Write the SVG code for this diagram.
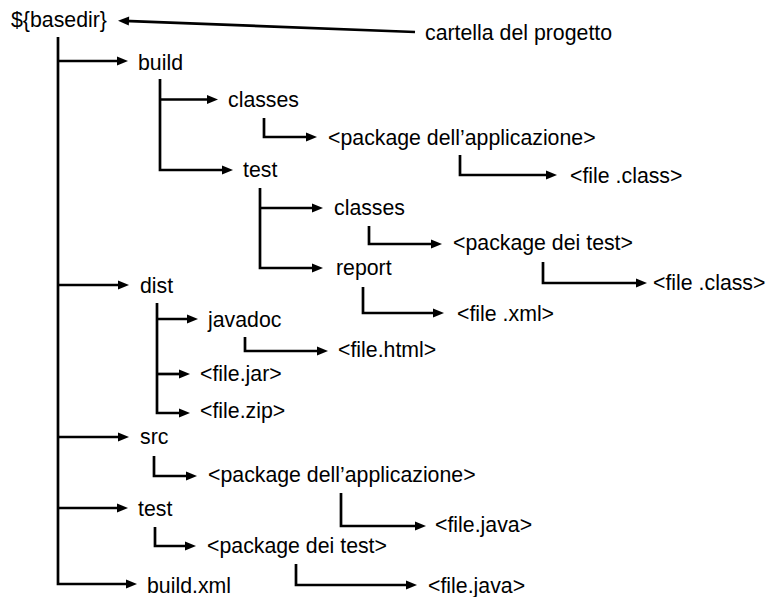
<svg xmlns="http://www.w3.org/2000/svg" width="774" height="597" viewBox="0 0 774 597">
<style>
text{font-family:"Liberation Sans",Arial,sans-serif;font-size:21.3px;fill:#000}
.c path{fill:none;stroke:#000;stroke-width:2.7;marker-end:url(#ah)}
</style>
<defs>
<marker id="ah" markerUnits="userSpaceOnUse" markerWidth="12" markerHeight="10" refX="5" refY="4.5" orient="auto" overflow="visible">
<path d="M0,0 L11,4.5 L0,9 z" fill="#000"/>
</marker>
</defs>
<rect width="774" height="597" fill="#fff"/>
<g class="c" id="connectors">
<path d="M415,32 L124,20.9"/>
<path d="M58,37 V584 H131"/>
<path d="M58,61 H122"/>
<path d="M58,285 H123"/>
<path d="M58,437 H123"/>
<path d="M58,508 H122"/>
<path d="M160,79 V170 H227"/>
<path d="M160,99.5 H212"/>
<path d="M264,118 V137 H311"/>
<path d="M460,155 V175 H551"/>
<path d="M260,188 V268 H317"/>
<path d="M260,208 H317"/>
<path d="M369,226 V244 H436"/>
<path d="M543,262 V283 H641"/>
<path d="M363,287 V313 H438"/>
<path d="M157,303 V413 H184"/>
<path d="M157,319 H192"/>
<path d="M157,374 H184"/>
<path d="M245,337 V351 H322"/>
<path d="M154,456 V476 H191"/>
<path d="M341,493 V526 H420"/>
<path d="M155,527 V546 H190"/>
<path d="M296,564 V585 H411"/>
</g>
<g id="n-basedir"><text x="11" y="27">${basedir}</text></g>
<g id="n-cartella"><text x="425" y="40">cartella del progetto</text></g>
<g id="n-build"><text x="138" y="70">build</text></g>
<g id="n-build-classes"><text x="228" y="107">classes</text></g>
<g id="n-build-classes-pkg"><text x="328" y="145">&lt;package dell’applicazione&gt;</text></g>
<g id="n-build-classes-file"><text x="570" y="183">&lt;file .class&gt;</text></g>
<g id="n-build-test"><text x="243" y="177">test</text></g>
<g id="n-build-test-classes"><text x="334" y="215">classes</text></g>
<g id="n-build-test-pkg"><text x="453" y="250">&lt;package dei test&gt;</text></g>
<g id="n-build-test-file"><text x="653" y="290">&lt;file .class&gt;</text></g>
<g id="n-build-test-report"><text x="336" y="275">report</text></g>
<g id="n-report-xml"><text x="457" y="321">&lt;file .xml&gt;</text></g>
<g id="n-dist"><text x="140" y="293">dist</text></g>
<g id="n-javadoc"><text x="208" y="327">javadoc</text></g>
<g id="n-html"><text x="338" y="357">&lt;file.html&gt;</text></g>
<g id="n-jar"><text x="200" y="381">&lt;file.jar&gt;</text></g>
<g id="n-zip"><text x="200" y="418">&lt;file.zip&gt;</text></g>
<g id="n-src"><text x="140" y="444">src</text></g>
<g id="n-src-pkg"><text x="208" y="482">&lt;package dell’applicazione&gt;</text></g>
<g id="n-src-java"><text x="435" y="532">&lt;file.java&gt;</text></g>
<g id="n-test"><text x="138" y="516">test</text></g>
<g id="n-test-pkg"><text x="207" y="553">&lt;package dei test&gt;</text></g>
<g id="n-test-java"><text x="428" y="593">&lt;file.java&gt;</text></g>
<g id="n-buildxml"><text x="147" y="593">build.xml</text></g>
</svg>
